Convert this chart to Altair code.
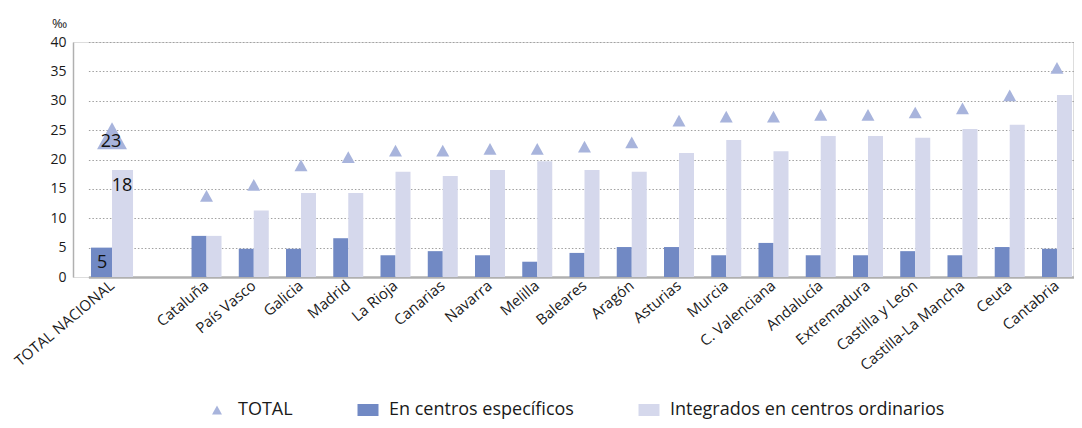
import altair as alt
import pandas as pd

# ---------------- data ----------------
regiones = ["TOTAL NACIONAL", "Cataluña", "País Vasco", "Galicia", "Madrid", "La Rioja",
            "Canarias", "Navarra", "Melilla", "Baleares", "Aragón", "Asturias", "Murcia",
            "C. Valenciana", "Andalucía", "Extremadura", "Castilla y León",
            "Castilla-La Mancha", "Ceuta", "Cantabria"]
especificos = [5.0, 7.0, 4.8, 4.8, 6.6, 3.7, 4.4, 3.7, 2.6, 4.1, 5.1, 5.1, 3.7, 5.8,
               3.7, 3.7, 4.4, 3.7, 5.1, 4.8]
integrados = [18.2, 7.0, 11.3, 14.3, 14.3, 17.9, 17.2, 18.2, 19.7, 18.2, 17.9, 21.1, 23.3,
              21.4, 24.0, 24.0, 23.7, 25.2, 25.9, 31.0]
total = [23.2, 13.8, 15.7, 19.0, 20.4, 21.5, 21.5, 21.8, 21.8, 22.2, 22.9, 26.6, 27.3,
         27.3, 27.6, 27.6, 28.0, 28.7, 30.9, 35.6]

series = ["TOTAL", "En centros específicos", "Integrados en centros ordinarios"]
colores = ["#a8b4dc", "#7189c4", "#d5d8ec"]
eje_x = [regiones[0], " "] + regiones[1:]
y_ticks = [0, 5, 10, 15, 20, 25, 30, 35, 40]

rows = []
for r, e, i, t in zip(regiones, especificos, integrados, total):
    rows.append({"region": r, "serie": series[0], "valor": t, "cero": 0})
    rows.append({"region": r, "serie": series[1], "valor": e, "cero": 0})
    rows.append({"region": r, "serie": series[2], "valor": i, "cero": 0})
df = pd.DataFrame(rows)

FONT = "Open Sans"
TXT = "#1a1a1a"
TRI = "M0,-0.75L0.83,0.75L-0.83,0.75Z"
RECT = "M-1.75,-1H1.75V1H-1.75Z"

x_enc = alt.X("region:N",
              scale=alt.Scale(domain=eje_x, range=[15.4, 1007.6], paddingInner=0, paddingOuter=0),
              axis=alt.Axis(title=None, labelAngle=-40, labelFont=FONT, labelFontSize=15,
                            labelColor=TXT, ticks=False, grid=False, domainColor="#b0b0b0",
                            domainWidth=2.5, labelPadding=6, labelAlign="right",
                            labelBaseline="middle", labelOverlap=False))
y_scale = alt.Scale(domain=[0, 40], nice=False)
y_axis = alt.Axis(values=y_ticks, title="‰", titleAngle=0, titleX=-14, titleY=-19,
                  titleAlign="center", titleBaseline="middle", titleFont=FONT,
                  titleFontSize=13, titleFontWeight="normal", titleColor=TXT,
                  labelFont=FONT, labelFontSize=14, labelColor=TXT, ticks=False,
                  labelPadding=7, grid=True, gridColor="#a0a0a0", labelOverlap=False,
                  gridDash=[1.5, 2], gridWidth=1, domainColor="#b0b0b0",
                  domainWidth=1.5)
y_enc = alt.Y("valor:Q", scale=y_scale, axis=y_axis)
y_zero = alt.Y("cero:Q", scale=y_scale, axis=y_axis)

legend = alt.Legend(title=None, orient="none", legendX=135, legendY=359, direction="horizontal",
                    labelFont=FONT, labelFontSize=18, labelColor=TXT, symbolSize=144,
                    symbolStrokeWidth=0, symbolOpacity=1, labelOffset=12, columnPadding=64,
                    labelLimit=0)
color_enc = alt.Color("serie:N", scale=alt.Scale(domain=series, range=colores), legend=legend)
shape_enc = alt.Shape("serie:N", scale=alt.Scale(domain=series, range=[TRI, RECT, RECT]),
                      legend=legend)

base = alt.Chart(df)
is_tn = "datum.region === 'TOTAL NACIONAL'"
not_tn = "datum.region !== 'TOTAL NACIONAL'"


def sel(serie, cond):
    return base.transform_filter(f"datum.serie === '{serie}'").transform_filter(cond)


def bars(serie, cond, width, offset):
    return sel(serie, cond).mark_bar(width=width, xOffset=offset).encode(
        x=x_enc, y=y_enc, color=color_enc)


tri_rest = sel(series[0], not_tn).mark_point(
    filled=True, opacity=1, size=245, strokeWidth=0).encode(
    x=x_enc, y=y_enc, color=color_enc, shape=shape_enc)
tri_tn = sel(series[0], is_tn).mark_point(
    filled=True, opacity=1, size=1300, strokeWidth=0, yOffset=-5).encode(
    x=x_enc, y=y_enc, color=color_enc, shape=shape_enc)


def label(serie, dx, dy, yy):
    return sel(serie, is_tn).transform_calculate(
        txt="format(round(datum.valor), 'd')").mark_text(
        font=FONT, fontSize=18, color="#111111", align="center",
        baseline="middle", dx=dx, dy=dy).encode(x=x_enc, y=yy, text="txt:N")


chart = alt.layer(
    bars(series[1], not_tn, 15, -7.5),
    bars(series[2], not_tn, 15, 7.5),
    bars(series[1], is_tn, 21, -10.5),
    bars(series[2], is_tn, 21, 10.5),
    tri_rest,
    tri_tn,
    label(series[0], -1, 1, y_enc),
    label(series[2], 10, 16, y_enc),
    label(series[1], -10, -14, y_zero),
).properties(
    width=1000, height=235, autosize="none",
    padding={"left": 65, "top": 34, "right": 1, "bottom": 143},
).configure_view(stroke=None).configure(background="white")

chart.save("out.html", embed_options={"renderer": "svg", "actions": False})
